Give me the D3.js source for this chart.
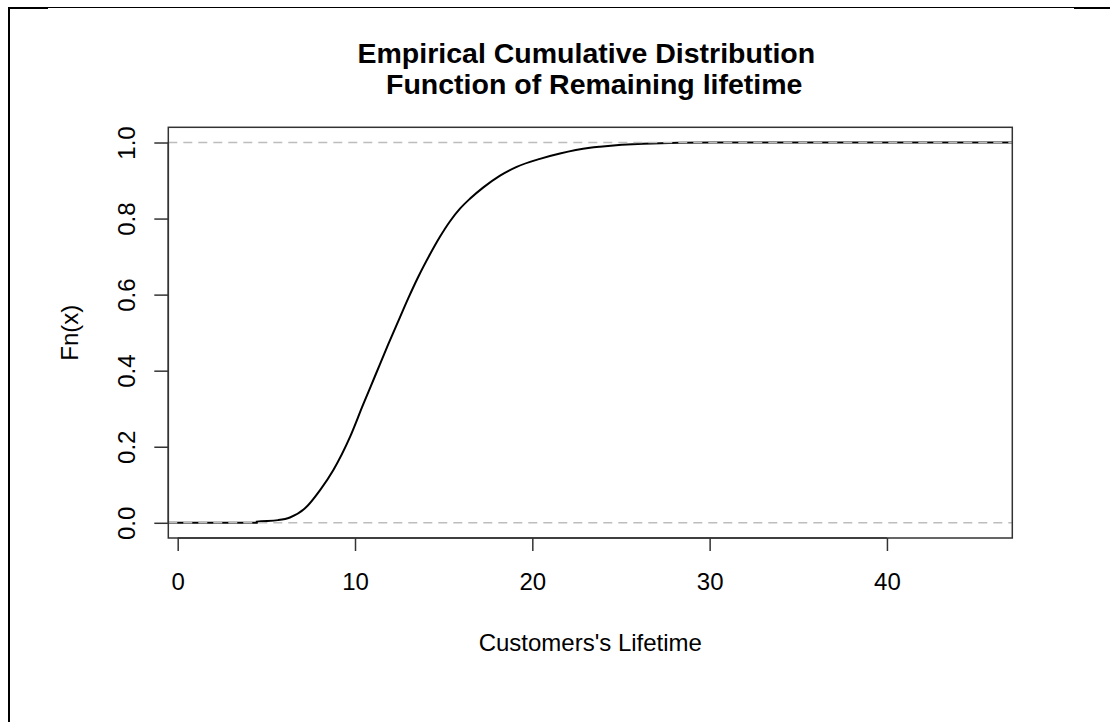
<!DOCTYPE html>
<html>
<head>
<meta charset="utf-8">
<script src="https://cdn.jsdelivr.net/npm/d3@7"></script>
<style>
    body { margin: 0; background: #fff; }
    svg { display: block; font-family: "Liberation Sans", Arial, sans-serif; }
</style>
</head>
<body>
<svg id="chart" width="1110" height="722"></svg>
<script>
// values
const lifetime = [4.46, 5.66, 6.33, 7.18, 8.03, 8.78, 9.72, 10.45, 11.13, 11.86, 12.54, 13.0, 13.57,
    14.23, 14.79, 15.36, 15.92, 16.48, 17.24, 18.18, 19.12, 20.43, 21.56, 23.25, 23.81, 26.26, 30.2];
const cumProb = [0.003, 0.007, 0.014, 0.038, 0.086, 0.139, 0.226, 0.31, 0.386, 0.468, 0.541, 0.59, 0.647,
    0.706, 0.752, 0.793, 0.826, 0.852, 0.882, 0.913, 0.936, 0.957, 0.971, 0.986, 0.989, 0.997, 1.0];
const xTicks = [0, 10, 20, 30, 40];
const yTicks = [0, 0.2, 0.4, 0.6, 0.8, 1.0];
const refLines = [0, 1];
const titleLines = ['Empirical Cumulative Distribution ', ' Function of Remaining lifetime'];
const xLabel = "Customers's Lifetime";
const yLabel = 'Fn(x)';

const box = { left: 168.3, right: 1012.3, top: 127.3, bottom: 538 };
const fontSize = 24;

const svg = d3.select('#chart');

// frame lines around the picture
const frame = svg.append('g').attr('class', 'frame').attr('stroke', '#000');
frame.append('line').attr('x1', 8).attr('x2', 1110).attr('y1', 7.5).attr('y2', 7.5).attr('stroke-width', 1);
frame.append('line').attr('x1', 8).attr('x2', 48).attr('y1', 8).attr('y2', 8).attr('stroke-width', 2);
frame.append('line').attr('x1', 1074).attr('x2', 1110).attr('y1', 8).attr('y2', 8).attr('stroke-width', 2);
frame.append('line').attr('x1', 9).attr('x2', 9).attr('y1', 7).attr('y2', 722).attr('stroke-width', 2);

const x = d3.scaleLinear().domain([-0.53, 47.07]).range([box.left, box.right]);
const y = d3.scaleLinear().domain([-0.04, 1.04]).range([box.bottom, box.top]);

// step function, extended flat to the plot edges
const points = [{ x: x.domain()[0], y: 0 }, { x: lifetime[0], y: 0 }]
    .concat(lifetime.map((v, i) => ({ x: v, y: cumProb[i] })))
    .concat([{ x: x.domain()[1], y: 1 }]);

const line = d3.line()
    .x(d => x(d.x))
    .y(d => y(d.y))
    .curve(d3.curveMonotoneX);

svg.append('path')
    .attr('class', 'ecdf')
    .attr('d', line(points))
    .attr('fill', 'none')
    .attr('stroke', '#000')
    .attr('stroke-width', 2);

svg.append('g').attr('class', 'ref-lines')
    .selectAll('line').data(refLines)
    .enter().append('line')
    .attr('x1', box.left).attr('x2', box.right)
    .attr('y1', d => y(d)).attr('y2', d => y(d))
    .attr('stroke', '#bdbdbd')
    .attr('stroke-width', 1.5)
    .attr('stroke-dasharray', '9,6');

svg.append('rect')
    .attr('x', box.left).attr('y', box.top)
    .attr('width', box.right - box.left).attr('height', box.bottom - box.top)
    .attr('fill', 'none')
    .attr('stroke', '#333')
    .attr('stroke-width', 1.5);

const xAxis = svg.append('g')
    .attr('transform', `translate(0,${box.bottom})`)
    .call(d3.axisBottom(x).tickValues(xTicks).tickSize(13).tickFormat(d3.format('d')));

const yAxis = svg.append('g')
    .attr('transform', `translate(${box.left},0)`)
    .call(d3.axisLeft(y).tickValues(yTicks).tickSize(14).tickFormat(d3.format('.1f')));

[xAxis, yAxis].forEach(axis => {
    axis.select('.domain').remove();
    axis.selectAll('.tick line').attr('stroke', '#333').attr('stroke-width', 1.5);
    axis.selectAll('text')
        .attr('fill', '#000')
        .attr('font-size', fontSize)
        .attr('font-family', '"Liberation Sans", Arial, sans-serif');
});

// axis lines only span the tick range, like base R
xAxis.append('line')
    .attr('x1', x(xTicks[0])).attr('x2', x(xTicks[xTicks.length - 1]))
    .attr('stroke', '#333').attr('stroke-width', 1.5);
yAxis.append('line')
    .attr('y1', y(yTicks[0])).attr('y2', y(yTicks[yTicks.length - 1]))
    .attr('stroke', '#333').attr('stroke-width', 1.5);

// rotated y tick labels
yAxis.selectAll('.tick text')
    .attr('x', null).attr('dy', null)
    .attr('text-anchor', 'middle')
    .attr('transform', 'translate(-33,0) rotate(-90)');

xAxis.selectAll('.tick text').attr('dy', '0.71em').attr('y', 35);

svg.append('text')
    .attr('x', (box.left + box.right) / 2)
    .attr('y', 651)
    .attr('text-anchor', 'middle')
    .attr('font-size', fontSize)
    .text(xLabel);

svg.append('text')
    .attr('transform', `translate(78,${(box.top + box.bottom) / 2}) rotate(-90)`)
    .attr('text-anchor', 'middle')
    .attr('font-size', fontSize)
    .text(yLabel);

svg.append('g').attr('class', 'title')
    .selectAll('text').data(titleLines)
    .enter().append('text')
    .attr('x', (box.left + box.right) / 2)
    .attr('y', (d, i) => 63 + i * 31)
    .attr('text-anchor', 'middle')
    .attr('font-size', 28.5)
    .attr('font-weight', 'bold')
    .style('white-space', 'pre')
    .text(d => d);
</script>
</body>
</html>
